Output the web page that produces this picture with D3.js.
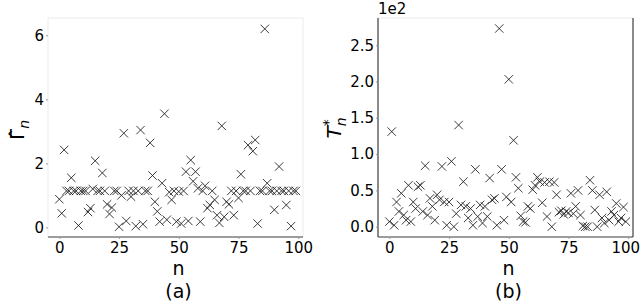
<!DOCTYPE html>
<html>
<head>
<meta charset="utf-8">
<script src="https://cdn.jsdelivr.net/npm/d3@7"></script>
<style>
  body { margin: 0; background: #fff; }
  text { font-family: "DejaVu Sans", sans-serif; fill: #000; }
</style>
</head>
<body>
<svg width="640" height="301"></svg>
<script>
// panel (a): Gamma hat per n = 0..99
var gammaValues = [
  0.88, 0.44, 2.42, 1.14, 1.14, 1.55, 1.14, 1.14, 0.06, 1.14,
  1.14, 1.14, 0.48, 0.60, 1.20, 2.08, 1.14, 1.14, 1.70, 1.14,
  0.72, 0.42, 0.62, 1.14, 1.14, 0.02, 1.00, 2.94, 0.20, 1.14,
  0.96, 1.14, 0.04, 1.14, 3.04, 0.10, 1.14, 1.14, 2.64, 1.62,
  0.80, 0.50, 0.18, 1.38, 3.55, 0.24, 1.10, 0.86, 1.14, 0.18,
  1.12, 0.12, 1.14, 1.74, 0.20, 2.10, 1.44, 1.74, 1.22, 0.18,
  1.14, 1.30, 0.60, 0.70, 1.14, 0.86, 0.38, 0.14, 3.17, 0.33,
  0.80, 0.72, 1.14, 0.38, 1.14, 0.92, 1.66, 1.14, 1.14, 2.57,
  1.14, 2.38, 2.73, 0.12, 1.14, 1.14, 6.20, 1.38, 1.14, 1.14,
  0.55, 1.14, 1.90, 1.14, 1.14, 0.70, 1.14, 0.04, 1.14, 1.14
];
// panel (b): T*_n per n = 0..99
var tValues = [
  7, 131, 2, 34, 21, 46, 16, 9, 57, 7,
  34, 25, 55, 57, 21, 84, 16, 39, 28, 9,
  44, 37, 83, 34, 2, 34, 90, 0, 18, 140,
  30, 62, 28, 12, 25, 2, 79, 14, 30, 5,
  28, 14, 67, 37, 39, 2, 273, 79, 9, 41,
  203, 34, 119, 68, 53, 15, 7, 6, 28, 25,
  51, 57, 68, 62, 33, 61, 14, 62, 0, 61,
  44, 20, 22, 17, 21, 19, 46, 18, 28, 50,
  16, 1, 0, 0, 64, 50, 23, 0, 44, 12,
  5, 48, 9, 21, 16, 32, 7, 12, 27, 7
];
var xTicks = [0, 25, 50, 75, 100];
var gammaTicks = [0, 2, 4, 6];
var tTicks = [0, 50, 100, 150, 200, 250];

var svg = d3.select("svg");

function drawPanel(opts) {
    var x = d3.scaleLinear([-4.75, 102], [opts.left, opts.right]);
    var y = d3.scaleLinear(opts.yDomain, [opts.bottom, opts.top]);
    var g = svg.append("g");

    // light frame
    g.append("rect")
        .attr("x", opts.left).attr("y", opts.top)
        .attr("width", opts.right - opts.left).attr("height", opts.bottom - opts.top)
        .attr("fill", "none").attr("stroke", "#ececec").attr("stroke-width", 1);

    // dark spines
    opts.dark.forEach(function(side) {
        var line = g.append("line").attr("stroke", "#444").attr("stroke-width", 1.2);
        if (side == "bottom") line.attr("x1", opts.left).attr("x2", opts.right).attr("y1", opts.bottom).attr("y2", opts.bottom);
        if (side == "left") line.attr("x1", opts.left).attr("x2", opts.left).attr("y1", opts.top).attr("y2", opts.bottom);
        if (side == "right") line.attr("x1", opts.right).attr("x2", opts.right).attr("y1", opts.top).attr("y2", opts.bottom);
    });

    var xAxis = d3.axisBottom(x).tickValues(xTicks).tickSize(2).tickPadding(3);
    var gx = g.append("g").attr("transform", "translate(0," + opts.bottom + ")").call(xAxis);
    var yAxis = d3.axisLeft(y).tickValues(opts.yTicks).tickSize(2).tickPadding(2).tickFormat(opts.yFormat);
    var gy = g.append("g").attr("transform", "translate(" + opts.left + ",0)").call(yAxis);
    [gx, gy].forEach(function(a) {
        a.select(".domain").remove();
        a.selectAll(".tick line").attr("stroke", "#999");
        a.selectAll(".tick text").style("font-size", "15px").style("font-family", "DejaVu Sans");
    });
    // keep the last x label inside the page
    gx.selectAll(".tick text").filter(function(d) { return d == 100; }).attr("dx", opts.lastShift);

    // x markers
    var s = 4.2;
    g.append("g").selectAll("path")
        .data(opts.values)
        .enter()
            .append("path")
            .attr("d", function(d, i) {
                var cx = x(i), cy = y(d);
                return "M" + (cx - s) + "," + (cy - s) + "L" + (cx + s) + "," + (cy + s) +
                       "M" + (cx - s) + "," + (cy + s) + "L" + (cx + s) + "," + (cy - s);
            })
            .attr("stroke", "#1a1a1a")
            .attr("stroke-opacity", 0.85)
            .attr("stroke-width", 1)
            .attr("fill", "none");

    var mid = (opts.left + opts.right) / 2 + 3;
    g.append("text").attr("x", mid).attr("y", 275).attr("text-anchor", "middle")
        .style("font-size", "19px").text("n");
    g.append("text").attr("x", mid).attr("y", 298).attr("text-anchor", "middle")
        .style("font-size", "19px").text(opts.caption);
    return g;
}

drawPanel({
    left: 48, right: 303, top: 18, bottom: 237,
    yDomain: [-0.3, 6.54], yTicks: gammaTicks, yFormat: d3.format("d"),
    values: gammaValues, dark: ["bottom"], caption: "(a)", lastShift: 0
});

drawPanel({
    left: 378, right: 633, top: 18, bottom: 237,
    yDomain: [-14.2, 287.5], yTicks: tTicks, yFormat: function(d) { return (d / 100).toFixed(1); },
    values: tValues, dark: ["bottom", "left", "right"], caption: "(b)", lastShift: -3
});

// offset label
svg.append("text").attr("x", 378).attr("y", 14).style("font-size", "15px").text("1e2");

// y labels
var gl = svg.append("text").attr("transform", "translate(24,130) rotate(-90)")
    .attr("text-anchor", "middle").style("font-size", "20px");
gl.append("tspan").text("\u0393\u0302");
gl.append("tspan").attr("dy", 5).style("font-size", "14px").style("font-style", "italic").text("n");

var tl = svg.append("text").attr("transform", "translate(341,128) rotate(-90)")
    .attr("text-anchor", "middle").style("font-size", "20px");
tl.append("tspan").style("font-style", "italic").text("T");
tl.append("tspan").attr("dy", -8).style("font-size", "14px").text("*");
tl.append("tspan").attr("dx", -7).attr("dy", 13).style("font-size", "14px").style("font-style", "italic").text("n");
</script>
</body>
</html>
